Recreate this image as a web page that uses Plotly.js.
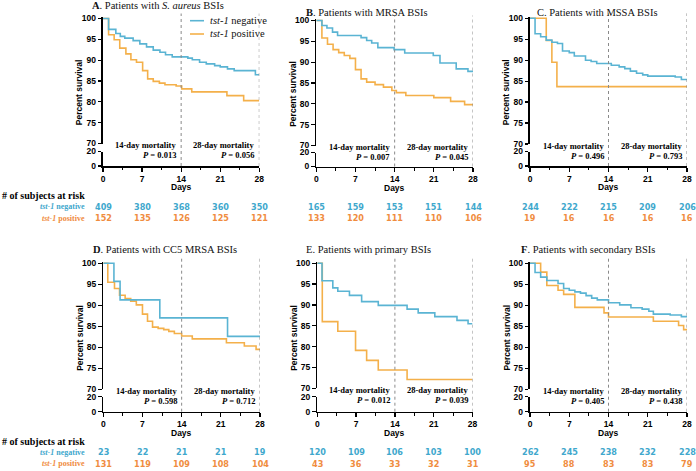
<!DOCTYPE html>
<html><head><meta charset="utf-8">
<script src="https://cdn.plot.ly/plotly-3.0.1.min.js"></script>
<style>html,body{margin:0;padding:0;background:#fff}#chart{width:696px;height:471px}</style>
</head><body><div id="chart"></div>
<script>
// ---------- DATA ----------
const panelTitles = [
  '<b>A</b>. Patients with <i>S. aureus</i> BSIs',
  '<b>B</b>. Patients with MRSA BSIs',
  'C. Patients with MSSA BSIs',
  '<b>D</b>. Patients with CC5 MRSA BSIs',
  'E. Patients with primary BSIs',
  '<b>F</b>. Patients with secondary BSIs'
];
const xTicks = [0, 7, 14, 21, 28];
const yTicksUpper = [70, 75, 80, 85, 90, 95, 100];
const yTicksLower = [0, 20];
const p14 = ['0.013', '0.007', '0.496', '0.598', '0.012', '0.405'];
const p28 = ['0.056', '0.045', '0.793', '0.712', '0.039', '0.438'];

const riskNegA = [409, 380, 368, 360, 350];
const riskPosA = [152, 135, 126, 125, 121];
const riskNegB = [165, 159, 153, 151, 144];
const riskPosB = [133, 120, 111, 110, 106];
const riskNegC = [244, 222, 215, 209, 206];
const riskPosC = [19, 16, 16, 16, 16];
const riskNegD = [23, 22, 21, 21, 19];
const riskPosD = [131, 119, 109, 108, 104];
const riskNegE = [120, 109, 106, 103, 100];
const riskPosE = [43, 36, 33, 32, 31];
const riskNegF = [262, 245, 238, 232, 228];
const riskPosF = [95, 88, 83, 83, 79];

const daysNegA = [0,1,2.3,3.1,3.9,5.4,6.6,7.8,9,10.2,11.2,12.4,15.2,16,17.3,18.5,20,21,22.3,23.5,27.3,28];
const survNegA = [100,97.4,96.4,95.7,95.3,94.7,93.9,93.2,92.4,91.9,91.3,90.8,90.5,90.1,89.5,89.1,88.7,88.4,87.9,87.5,86.5,86.5];
const daysPosA = [0,1,2,3,4.1,5,6,7.1,8,9,10.1,11.1,13.1,14.1,15.9,22.2,25.2,28];
const survPosA = [100,96.1,94.9,92.9,91.5,90.1,89.5,87.5,85.5,84.9,84.5,84.1,83.8,83.1,82.4,81.5,80.3,80.3];

const daysNegB = [0,1,1.9,2.9,3.8,8,9,9.9,11,13.9,15.8,20.9,22.1,25,27.1,28];
const survNegB = [100,98.8,98.2,97.2,96.4,95.9,95.2,94.6,93.5,93.0,92.2,91.6,89.8,88.4,87.8,87.8];
const daysPosB = [0,1,2,3,4,5,6,7,8,9,10.5,12,13.5,14.3,16,21,24,26.5,28];
const survPosB = [100,95.8,94.3,93.0,92.3,91.6,90.9,88.2,86.0,85.2,84.6,84.0,83.2,82.7,82.0,81.5,80.6,79.8,79.8];

const daysNegC = [0,0.9,1.9,2.9,3.9,4.9,5.8,7,7.9,9.9,10.9,11.9,14.5,15.9,16.9,17.9,19,20.1,21,25.9,27,28];
const survNegC = [100,96.3,95.6,94.8,94.3,94.0,92.2,91.8,91.0,90.0,89.7,89.2,88.8,88.4,88.0,87.4,86.9,86.5,86.2,86.0,85.4,85.4];
const daysPosC = [0,2.9,3.9,4.8,28];
const survPosC = [100,94.7,89.5,83.7,83.7];

const daysNegD = [0,1.9,3,10.1,22.2,28];
const survNegD = [100,95.7,91.3,87.0,82.6,82.6];
const daysPosD = [0,0.8,2,2.9,3.9,4.9,5.9,7,7.9,8.8,9.8,10.8,11.7,12.7,14,15.9,22,25.2,27.3,28];
const survPosD = [100,95.5,94.0,92.4,91.6,91.0,90.1,87.9,86.2,84.8,84.5,84.2,83.8,83.3,82.7,82.0,81.1,80.3,79.5,79.5];

const daysNegE = [0,0.85,2.8,3.7,5.8,8,11,16.2,18.2,21.2,25.2,27.2,28];
const survNegE = [100,95.8,94.1,93.3,92.3,90.8,89.9,89.0,88.1,87.2,86.3,85.5,85.5];
const daysPosE = [0,0.9,3.7,6.9,8.9,11,16.2,28];
const survPosE = [100,86.0,83.7,79.1,76.7,74.4,72.1,72.1];

const daysNegF = [0,0.9,1.9,3,5,6,7,8,9,10,11,12,14,16,18,20,21.2,22,25,27,28];
const survNegF = [100,97.8,96.7,95.9,95.2,94.0,93.6,93.2,92.9,92.3,91.7,91.3,90.6,90.1,89.4,89.1,88.6,87.9,87.7,87.3,87.3];
const daysPosF = [0,1.9,3,5,6,8,13.2,14,22,26.5,27.4,28];
const survPosF = [100,97.9,94.7,93.6,92.6,89.5,88.2,87.2,86.2,85.2,84.2,84.2];

// ---------- BUILD ----------
const curvesNeg = [[daysNegA,survNegA],[daysNegB,survNegB],[daysNegC,survNegC],[daysNegD,survNegD],[daysNegE,survNegE],[daysNegF,survNegF]];
const curvesPos = [[daysPosA,survPosA],[daysPosB,survPosB],[daysPosC,survPosC],[daysPosD,survPosD],[daysPosE,survPosE],[daysPosF,survPosF]];
const risksNeg = [riskNegA,riskNegB,riskNegC,riskNegD,riskNegE,riskNegF];
const risksPos = [riskPosA,riskPosB,riskPosC,riskPosD,riskPosE,riskPosF];

const W = 696, H = 471;
const BLUE = '#5ab4d3', ORANGE = '#f4b04a';
const BLUE_T = '#3fa8cd', ORANGE_T = '#f08c3e';
const SERIF = 'Liberation Serif, Times New Roman, serif';
const SANS = 'Liberation Sans, Arial, sans-serif';
const NARROW = 'Liberation Sans Narrow, Arial Narrow, DejaVu Sans Condensed, sans-serif';

const geo = [
  {xl:103,   xr:259.3, top:18.5,  y70:143.5, y20:151.5, y0:166,   tx:90,  ty:6},
  {xl:316.3, xr:473,   top:20.5,  y70:145.5, y20:152.5, y0:166.5, tx:304, ty:13},
  {xl:530,   xr:687,   top:18.3,  y70:144,   y20:151.5, y0:166,   tx:535, ty:13},
  {xl:103.3, xr:260,   top:263.3, y70:389.3, y20:396.7, y0:411.7, tx:91,  ty:249.3},
  {xl:317.3, xr:472.5, top:263.3, y70:388.3, y20:396.7, y0:411.7, tx:304, ty:249.3},
  {xl:530,   xr:687,   top:263.3, y70:389.3, y20:396.7, y0:411.7, tx:519, ty:249}
];
const rowY0 = [166, 411.7];

const px = p => p / W;
const py = p => 1 - p / H;
const axId = (letter, n) => n === 1 ? letter : letter + n;
const axKey = (letter, n) => n === 1 ? letter + 'axis' : letter + 'axis' + n;

const data = [];
const layout = {
  width: W, height: H,
  margin: {l:0, r:0, t:0, b:0},
  paper_bgcolor: '#fff', plot_bgcolor: 'rgba(0,0,0,0)',
  showlegend: false,
  annotations: [], shapes: []
};
const tickFont = {family: SANS, size: 8.5, color: '#000', weight: 'bold'};
const EXT = 0.4;

geo.forEach((g, i) => {
  const xn = i + 1, yU = 2 * i + 1, yL = 2 * i + 2;
  const xid = axId('x', xn), yUid = axId('y', yU), yLid = axId('y', yL);
  const ppu = (g.y70 - g.top) / 30;
  const topExt = g.top - EXT * ppu;

  layout[axKey('x', xn)] = {
    domain: [px(g.xl), px(g.xr)], range: [0, 28], anchor: yLid,
    tickmode: 'array', tickvals: xTicks, ticktext: xTicks.map(String),
    ticks: 'outside', ticklen: 4, tickwidth: 1.3, tickcolor: '#000',
    showline: true, linewidth: 1.5, linecolor: '#000',
    showgrid: false, zeroline: false, tickfont: tickFont,
    minor: {tick0: 0, dtick: 3.5, ticks: 'outside', ticklen: 2.5, tickwidth: 1, tickcolor: '#000', showgrid: false},
    fixedrange: true
  };
  layout[axKey('y', yU)] = {
    domain: [py(g.y70), py(topExt)], range: [70, 100 + EXT], anchor: xid,
    tickmode: 'array', tickvals: yTicksUpper, ticktext: yTicksUpper.map(String),
    ticks: 'outside', ticklen: 3.5, tickwidth: 1.3, tickcolor: '#000',
    showline: true, linewidth: 1.8, linecolor: '#000',
    showgrid: false, zeroline: false, tickfont: tickFont, fixedrange: true
  };
  layout[axKey('y', yL)] = {
    domain: [py(g.y0), py(g.y20)], range: [0, 20], anchor: xid,
    tickmode: 'array', tickvals: yTicksLower, ticktext: yTicksLower.map(String),
    ticks: 'outside', ticklen: 3.5, tickwidth: 1.3, tickcolor: '#000',
    showline: true, linewidth: 1.8, linecolor: '#000',
    showgrid: false, zeroline: false, tickfont: tickFont, fixedrange: true
  };

  // curves
  data.push({x: curvesPos[i][0], y: curvesPos[i][1], xaxis: xid, yaxis: yUid, type: 'scatter', mode: 'lines',
    line: {shape: 'hv', color: ORANGE, width: 1.6}, hoverinfo: 'skip'});
  data.push({x: curvesNeg[i][0], y: curvesNeg[i][1], xaxis: xid, yaxis: yUid, type: 'scatter', mode: 'lines',
    line: {shape: 'hv', color: BLUE, width: 1.6}, hoverinfo: 'skip'});
  // empty trace to register the lower subplot
  data.push({x: [], y: [], xaxis: xid, yaxis: yLid, type: 'scatter', mode: 'lines', hoverinfo: 'skip'});

  // dotted reference lines at day 14 and 28
  [14, 28].forEach(d => {
    layout.shapes.push({type: 'line', xref: xid, yref: 'paper', x0: d, x1: d,
      y0: py(g.y0), y1: py(g.top - 5), line: {color: '#8a8a8a', width: 1, dash: 'dot'}});
  });

  // title
  layout.annotations.push({text: panelTitles[i], xref: 'paper', yref: 'paper', x: px(g.tx), y: py(g.ty),
    xanchor: 'left', yanchor: 'middle', showarrow: false, font: {family: SERIF, size: 10.5, color: '#111'}});
  // y title
  layout.annotations.push({text: 'Percent survival', xref: 'paper', yref: 'paper', x: px(g.xl - 24), y: py((g.top + g.y0) / 2),
    xanchor: 'center', yanchor: 'middle', textangle: -90, showarrow: false, font: {family: SANS, size: 8.5, color: '#000', weight: 'bold'}});
  // x title
  layout.annotations.push({text: 'Days', xref: xid, yref: 'paper', x: 14, y: py(g.y0 + 21),
    xanchor: 'center', yanchor: 'middle', showarrow: false, font: {family: SANS, size: 8.5, color: '#000', weight: 'bold'}});
  // mortality annotations
  [[14, '14-day mortality', p14[i]], [28, '28-day mortality', p28[i]]].forEach(([d, lbl, p]) => {
    layout.annotations.push({text: '<b>' + lbl + '</b>', xref: xid, yref: 'paper', x: d, xshift: -3, y: py(g.y70 + 1.5),
      xanchor: 'right', yanchor: 'middle', showarrow: false, font: {family: SERIF, size: 8.5, color: '#000'}});
    layout.annotations.push({text: '<b><i>P</i> = ' + p + '</b>', xref: xid, yref: 'paper', x: d, xshift: -3, y: py(g.y70 + 11.5),
      xanchor: 'right', yanchor: 'middle', showarrow: false, font: {family: SERIF, size: 8.5, color: '#000'}});
  });

  // risk table numbers
  const ry0 = rowY0[i < 3 ? 0 : 1];
  xTicks.forEach((d, k) => {
    layout.annotations.push({text: '<b>' + risksNeg[i][k] + '</b>', xref: xid, yref: 'paper', x: d, y: py(ry0 + 40.5),
      xanchor: 'center', yanchor: 'middle', showarrow: false, font: {family: NARROW, size: 9, color: BLUE_T}});
    layout.annotations.push({text: '<b>' + risksPos[i][k] + '</b>', xref: xid, yref: 'paper', x: d, y: py(ry0 + 52),
      xanchor: 'center', yanchor: 'middle', showarrow: false, font: {family: NARROW, size: 9, color: ORANGE_T}});
  });
});

// risk table row labels
rowY0.forEach(ry0 => {
  layout.annotations.push({text: '<b># of subjects at risk</b>', xref: 'paper', yref: 'paper', x: px(87), y: py(ry0 + 29.5),
    xanchor: 'right', yanchor: 'middle', showarrow: false, font: {family: SERIF, size: 10, color: '#000'}});
  layout.annotations.push({text: '<b><i>tst-1</i> negative</b>', xref: 'paper', yref: 'paper', x: px(87), y: py(ry0 + 40.5),
    xanchor: 'right', yanchor: 'middle', showarrow: false, font: {family: SERIF, size: 8, color: BLUE_T}});
  layout.annotations.push({text: '<b><i>tst-1</i> positive</b>', xref: 'paper', yref: 'paper', x: px(87), y: py(ry0 + 52),
    xanchor: 'right', yanchor: 'middle', showarrow: false, font: {family: SERIF, size: 8, color: ORANGE_T}});
});

// legend in panel A
[[20.7, BLUE, 'negative'], [34, ORANGE, 'positive']].forEach(([yy, c, w]) => {
  layout.shapes.push({type: 'line', xref: 'paper', yref: 'paper', x0: px(190), x1: px(204), y0: py(yy), y1: py(yy),
    line: {color: c, width: 1.6}});
  layout.annotations.push({text: '<i>tst-1</i> ' + w, xref: 'paper', yref: 'paper', x: px(208), y: py(yy),
    xanchor: 'left', yanchor: 'middle', showarrow: false, font: {family: SERIF, size: 10.5, color: '#111'}});
});

Plotly.newPlot('chart', data, layout, {displayModeBar: false, staticPlot: true});
</script>
</body></html>
